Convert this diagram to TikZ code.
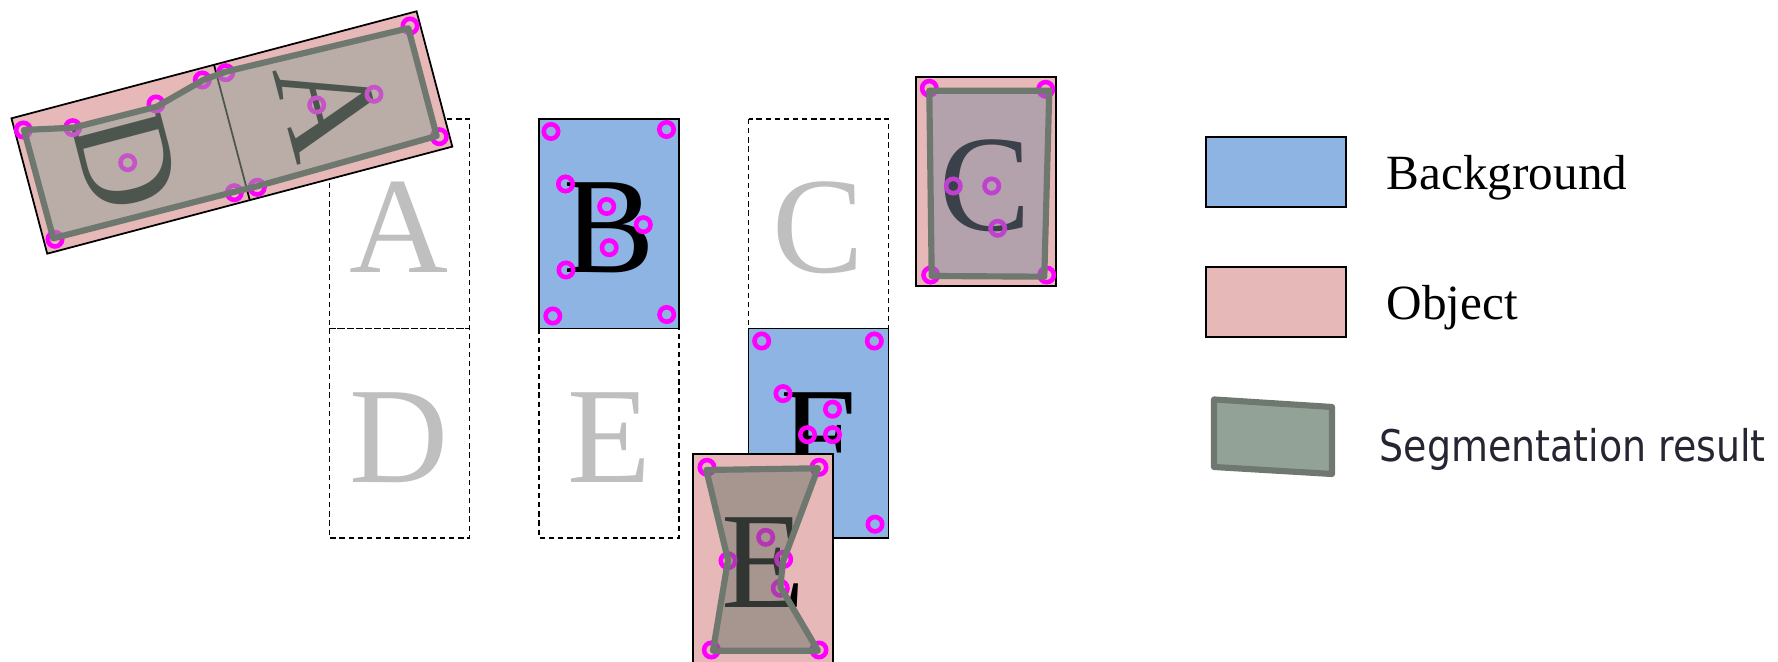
\documentclass[tikz,border=0pt]{standalone}
\usepackage{fontspec}
\setmainfont{Liberation Serif}
\newfontfamily\segfont[FakeStretch=0.87]{DejaVu Sans}
\definecolor{bgblue}{HTML}{8EB4E3}
\definecolor{objpink}{HTML}{E6B9B8}
\definecolor{segline}{HTML}{6E786E}
\definecolor{segfill}{HTML}{93A297}
\definecolor{segfillC}{HTML}{7D889D}
\definecolor{segfillE}{HTML}{667066}
\definecolor{ptmag}{HTML}{FF00FF}
\definecolor{faint}{HTML}{BFBFBF}
\definecolor{segtext}{HTML}{262633}
\tikzset{
  cell/.style={draw, dash pattern=on 1.5pt off 1.1pt, line width=0.45pt},
  bgcell/.style={draw, fill=bgblue, line width=0.5pt},
  objcell/.style={draw, fill=objpink, line width=0.5pt},
  seg/.style={draw=segline, line width=1.75pt, line join=round},
  pt/.style={draw=ptmag, line width=1.3pt},
  glyph/.style={font=\fontsize{39}{41}\selectfont, inner sep=0pt, anchor=base},
  legtext/.style={font=\fontsize{14}{16}\selectfont, inner sep=0pt, anchor=base west}
}

\begin{document}
\begin{tikzpicture}[x=0.01cm,y=-0.01cm]
\useasboundingbox (0,0) rectangle (1778,662);
\foreach \x/\y/\t in {329.5/119/A, 748.5/119/C, 329.5/328.5/D, 539/328.5/E}
  {\draw[cell] (\x,\y) rectangle +(140,209.5);
   \node[glyph, text=faint] (g\t) at (\x+70,\y+154) {\t};}
\draw[bgcell] (539,119) rectangle +(140,209.5);
\node[glyph] (gB) at (609,273) {B};
\foreach \p in {(551,131.5),(666.5,129.5),(565.5,184),(606.7,206.5),(643.3,224.7),(609.2,247.7),(566,270),(552.8,316),(666.7,314.5)}
  \draw[pt] \p circle[radius=0.072cm];
\draw[bgcell] (748.5,328.5) rectangle +(140,209.5);
\node[glyph] (gF) at (818.5,482.5) {F};
\foreach \p in {(761.7,341),(874.3,341),(783,393.6),(832.5,409.2),(807.5,434.7),(832.5,434.7),(875,524.2)}
  \draw[pt] \p circle[radius=0.072cm];

\begin{scope}[shift={(231.9,132.5)}, rotate=-75.2]
\draw[objcell] (-70,-209.5) rectangle (70,209.5);
\draw[line width=0.5pt] (-70,0) -- (70,0);
\node[glyph, transform shape] (sA) at (0,-55.5) {A};
\node[glyph, transform shape] (sD) at (0,154) {D};
\end{scope}
\foreach \p in {(23.3,130),(72.7,127.7),(156,104),(202.3,80),(225.7,72.7),(410,26),(439.3,136.7),(257.3,187.3),(234.3,192.7),(55,239.3),(127.7,162.7),(316.7,105),(374,94.3)}
  \draw[pt] \p circle[radius=0.072cm];
\draw[seg, fill=segfill, fill opacity=0.53] (24,130) -- (73.3,127.7) -- (156.7,106.7) -- (203.3,80) -- (225.7,71.7) -- (408.3,28.3) -- (436.7,136) -- (258.3,186) -- (235,191.7) -- (53.3,238.3) -- cycle;

\draw[objcell] (915.7,76.7) rectangle +(140,209.5);
\node[glyph] (oC) at (985.7,230.7) {C};
\foreach \p in {(929.3,88.3),(1045.7,89.3),(930.7,275),(1046.7,275),(953.3,186),(991.7,186),(997.7,228.3)}
  \draw[pt] \p circle[radius=0.072cm];
\draw[seg, fill=segfillC, fill opacity=0.48] (929.3,90.7) -- (1049.3,90.7) -- (1044.3,276.7) -- (931.7,276) -- cycle;

\draw[objcell] (693,454) rectangle +(140,209.5);
\node[glyph] (oE) at (763,608) {E};
\foreach \p in {(707,467.3),(819,467.3),(728,560.7),(783.7,559.3),(780.3,588.3),(711.3,650),(819,650),(765.7,537.3)}
  \draw[pt] \p circle[radius=0.072cm];
\draw[seg, fill=segfillE, fill opacity=0.49] (706.3,470) -- (818,468.3) -- (783,561.7) -- (780.3,586.7) -- (818,650.7) -- (713,650.7) -- (728,560) -- cycle;

\draw[bgcell] (1206,136.7) rectangle (1346,206.7);
\draw[objcell] (1206,266.7) rectangle (1346,336.7);
\draw[seg, fill=segfill] (1214,399.5) -- (1332,407) -- (1332,474) -- (1214,467) -- cycle;
\node[legtext] (lbg) at (1386,190) {Background};
\node[legtext] (lobj) at (1386,320) {Object};
\node[legtext, font=\segfont\fontsize{12.4}{14}\selectfont, text=segtext] (lseg) at (1379,461.7) {Segmentation result};
\end{tikzpicture}
\end{document}
